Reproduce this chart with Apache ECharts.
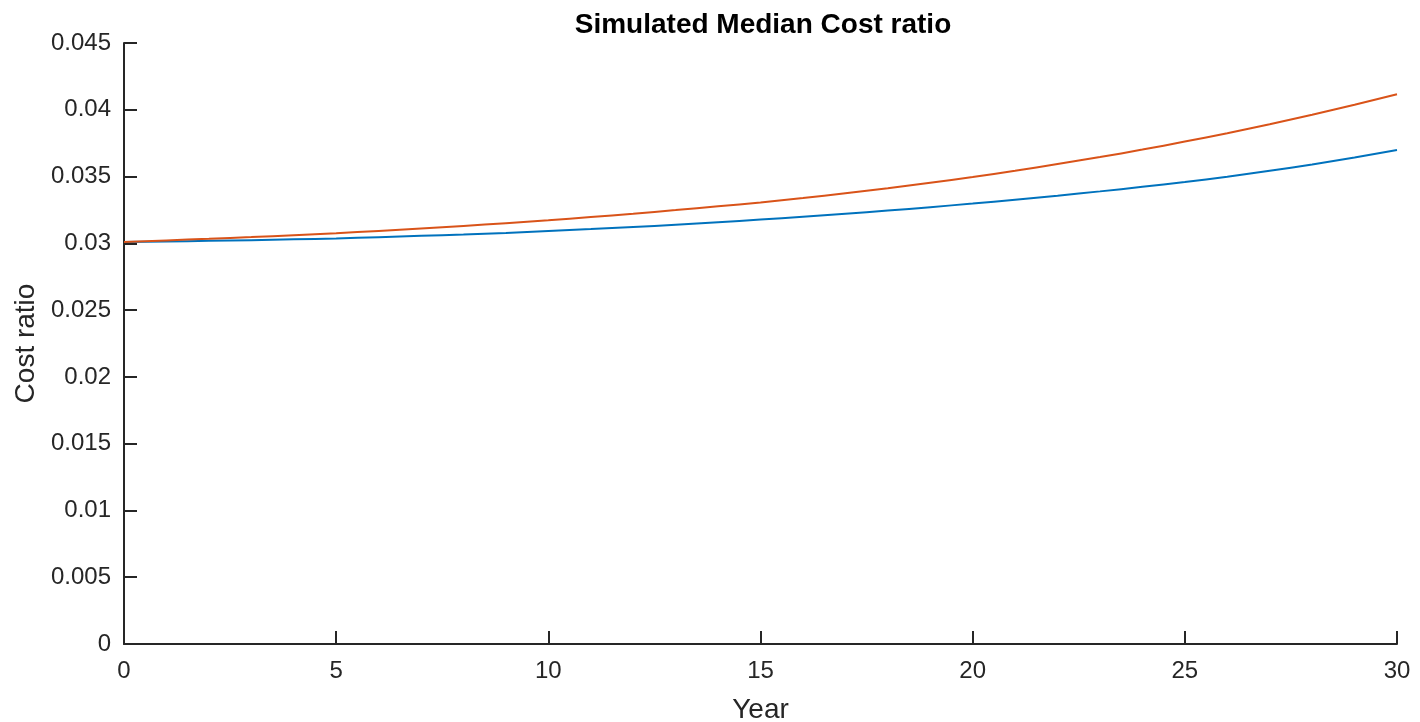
<!DOCTYPE html>
<html>
<head>
<meta charset="utf-8">
<script src="https://cdn.jsdelivr.net/npm/echarts@6/dist/echarts.min.js"></script>
<style>html,body{margin:0;padding:0;background:#fff;}#c{width:1420px;height:722px;}</style>
</head>
<body>
<div id="c"></div>
<script>
const years = [0,1,2,3,4,5,6,7,8,9,10,11,12,13,14,15,16,17,18,19,20,21,22,23,24,25,26,27,28,29,30];
const seriesA = [0.03010,0.03014,0.03019,0.03024,0.03030,0.03037,0.03046,0.03056,0.03066,0.03078,0.03093,0.03107,0.03122,0.03139,0.03158,0.03178,0.03199,0.03221,0.03245,0.03271,0.03298,0.03327,0.03357,0.03389,0.03423,0.03459,0.03499,0.03543,0.03591,0.03643,0.03699];
const seriesB = [0.03010,0.03022,0.03034,0.03047,0.03061,0.03076,0.03093,0.03111,0.03130,0.03151,0.03173,0.03197,0.03222,0.03249,0.03277,0.03306,0.03339,0.03375,0.03413,0.03454,0.03497,0.03544,0.03594,0.03646,0.03702,0.03762,0.03825,0.03892,0.03963,0.04038,0.04116];
const xTicks = [0,5,10,15,20,25,30];
const yTicks = [0,0.005,0.01,0.015,0.02,0.025,0.03,0.035,0.04,0.045];

const font = '"Liberation Sans", Arial, Helvetica, sans-serif';
const chart = echarts.init(document.getElementById('c'), null, {renderer:'canvas'});
chart.setOption({
  animation: false,
  title: {
    text: 'Simulated Median Cost ratio',
    left: 758, top: 6, textAlign: 'center',
    textStyle: {fontFamily: font, fontWeight: 'bold', fontSize: 28, color: '#000'}
  },
  grid: {left: 124, right: 23, top: 43, bottom: 78, containLabel: false, outerBoundsMode: 'none'},
  xAxis: {
    type: 'value', min: xTicks[0], max: xTicks[xTicks.length-1], interval: 5,
    name: 'Year', nameLocation: 'middle', nameGap: 52,
    nameTextStyle: {fontFamily: font, fontSize: 28, color: '#262626'},
    axisLine: {show: true, lineStyle: {color: '#262626', width: 2}},
    axisTick: {show: true, inside: true, length: 13, lineStyle: {color: '#262626', width: 2}},
    axisLabel: {margin: 15, fontFamily: font, fontSize: 24, color: '#262626'},
    splitLine: {show: false}
  },
  yAxis: {
    type: 'value', min: 0, max: 0.045, interval: 0.005,
    name: 'Cost ratio', nameLocation: 'middle', nameGap: 82, nameRotate: 90,
    nameTextStyle: {fontFamily: font, fontSize: 28, color: '#262626'},
    axisLine: {show: true, lineStyle: {color: '#262626', width: 2}},
    axisTick: {show: true, inside: true, length: 13, lineStyle: {color: '#262626', width: 2}},
    axisLabel: {margin: 13, fontFamily: font, fontSize: 24, color: '#262626',
      formatter: function(v){ return String(parseFloat(v.toFixed(4))); }},
    splitLine: {show: false}
  },
  series: [
    {type: 'line', data: years.map((x,i)=>[x, seriesA[i]]), showSymbol: false, smooth: true,
     lineStyle: {color: '#0072BD', width: 2}, itemStyle: {color: '#0072BD'}},
    {type: 'line', data: years.map((x,i)=>[x, seriesB[i]]), showSymbol: false, smooth: true,
     lineStyle: {color: '#D95319', width: 2}, itemStyle: {color: '#D95319'}}
  ]
});
</script>
</body>
</html>
